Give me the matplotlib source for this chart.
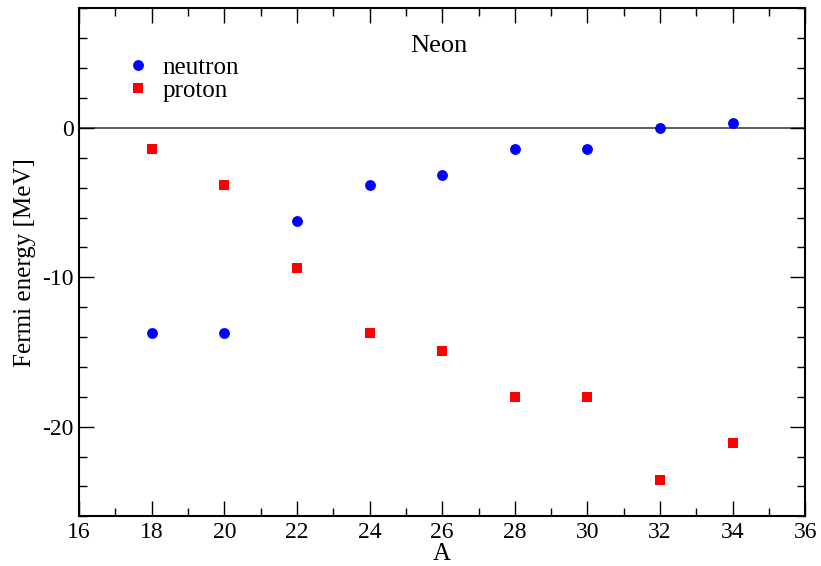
import numpy as np
import matplotlib
matplotlib.use('Agg')
import matplotlib.pyplot as plt
from matplotlib.ticker import MultipleLocator

# Fermi energies of Neon isotopes
mass_number = [18, 20, 22, 24, 26, 28, 30, 32, 34]
e_neutron = [-13.7, -13.7, -6.24, -3.81, -3.12, -1.38, -1.38, 0.0, 0.31]
e_proton = [-1.38, -3.8, -9.35, -13.7, -14.9, -18.0, -18.0, -23.56, -21.1]

plt.rcParams['font.family'] = 'serif'
plt.rcParams['font.serif'] = ['Liberation Serif', 'DejaVu Serif']
plt.rcParams['axes.unicode_minus'] = False

fig = plt.figure(figsize=(8.21, 5.66), dpi=100)
ax = fig.add_axes([0.0962, 0.0878, 0.981 - 0.0962, 0.985 - 0.0878])

ax.axhline(0.0, color='0.3', linewidth=1.3, zorder=1)

ax.plot(mass_number, e_neutron, linestyle='none', marker='o', markersize=7.8,
        color='#0000ff', markeredgewidth=0, label='neutron', zorder=3)
ax.plot(mass_number, e_proton, linestyle='none', marker='s', markersize=6.6,
        color='#ff0000', markeredgewidth=0, label='proton', zorder=3)

ax.set_xlim(16, 36)
ax.set_ylim(-26, 8)

ax.xaxis.set_major_locator(MultipleLocator(2))
ax.xaxis.set_minor_locator(MultipleLocator(1))
ax.yaxis.set_major_locator(MultipleLocator(10))
ax.yaxis.set_minor_locator(MultipleLocator(2))

ax.tick_params(which='both', direction='in', top=True, right=True,
               labelsize=17, width=1.0)
ax.tick_params(which='major', length=10.5)
ax.tick_params(which='minor', length=5.5)
ax.tick_params(axis='x', pad=4)
ax.tick_params(axis='y', pad=4)

for sp in ax.spines.values():
    sp.set_linewidth(1.5)

ax.set_xlabel('A', fontsize=18, labelpad=0)
ax.set_ylabel('Fermi energy [MeV]', fontsize=18, labelpad=4)

ax.text(25.9, 5.5, 'Neon', fontsize=19, ha='center', va='center')

ax.legend(loc='upper left', bbox_to_anchor=(0.05, 0.925), frameon=False,
          fontsize=18, handlelength=1.0, handletextpad=0.5,
          labelspacing=0.0, borderaxespad=0)

fig.savefig('out.png', dpi=100)
